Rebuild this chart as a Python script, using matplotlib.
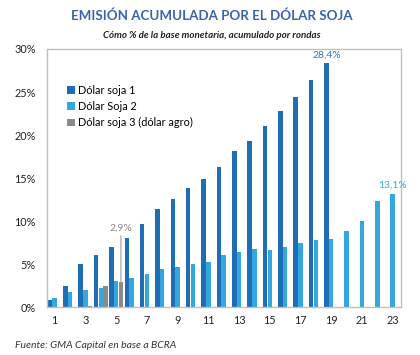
import matplotlib
matplotlib.use('Agg')
import matplotlib.pyplot as plt
import numpy as np

# rounds and accumulated emission (% of monetary base)
rounds = list(range(1, 24))
soja1 = [0.85, 2.5, 5.0, 6.0, 7.0, 8.0, 9.7, 11.4, 12.6, 13.8, 14.9, 16.3,
         18.1, 19.3, 21.1, 22.8, 24.4, 26.4, 28.4]
soja2 = [1.0, 1.8, 2.0, 2.2, 3.0, 3.4, 3.9, 4.4, 4.7, 5.0, 5.2, 6.0, 6.4,
         6.7, 6.6, 7.0, 7.4, 7.8, 7.9, 8.8, 10.0, 12.3, 13.1]
soja3_rounds = [3, 4, 5]
soja3 = [0.1, 2.4, 2.9]
yticks = [0, 5, 10, 15, 20, 25, 30]
xticks = list(range(1, 24, 2))

c1 = '#1f6db5'
c2 = '#35a7df'
c3 = '#8a8a8a'

plt.rcParams['font.family'] = ['Lato', 'DejaVu Sans']

fig = plt.figure(figsize=(4.2, 3.55), dpi=100)
ax = fig.add_axes([0.112, 0.135, 0.843, 0.727])

w = 0.29
off = 0.31
x1 = np.arange(1, len(soja1) + 1)
x2 = np.arange(1, len(soja2) + 1)
x3 = np.array(soja3_rounds)
ax.bar(x1 - off, soja1, width=w, color=c1, label='Dólar soja 1')
ax.bar(x2, soja2, width=w, color=c2, label='Dólar Soja 2')
ax.bar(x3 + off, soja3, width=w, color=c3, label='Dólar soja 3 (dólar agro)')

ax.set_xlim(0.5, 23.55)
ax.set_ylim(0, 30)
ax.set_yticks(yticks)
ax.set_yticklabels([f'{v}%' for v in yticks])
ax.set_xticks(xticks)
ax.tick_params(length=0, labelsize=7.8, colors='#222222')
ax.tick_params(axis='y', pad=8)
ax.tick_params(axis='x', pad=6)
for s in ax.spines.values():
    s.set_color('#c0c0c0')
    s.set_linewidth(1)

# value labels
ax.text(19 - off, soja1[-1] + 0.4, '28,4%', color='#2f78c2', ha='center',
        va='bottom', fontsize=7.5)
ax.text(23, soja2[-1] + 0.6, '13,1%', color='#35a7df', ha='center',
        va='bottom', fontsize=7.5)
ax.annotate('2,9%', xy=(5 + off, soja3[-1]), xytext=(5 + off, 8.6),
            ha='center', va='bottom', color=c3, fontsize=7.5,
            arrowprops=dict(arrowstyle='-', color='#b0b0b0', lw=1,
                            shrinkA=0, shrinkB=0))

leg = ax.legend(loc='upper left', bbox_to_anchor=(0.03, 0.9), frameon=False,
                fontsize=7.8, handlelength=0.7, handleheight=0.7,
                handletextpad=0.3, labelspacing=0.5)

fig.text(0.505, 0.955, 'EMISIÓN ACUMULADA POR EL DÓLAR SOJA', ha='center',
         va='center', fontsize=9.6, fontweight='bold', color='#3b62ad')
fig.text(0.505, 0.9, 'Cómo % de la base monetaria, acumulado por rondas',
         ha='center', va='center', fontsize=7, fontstyle='italic',
         fontweight='bold', color='#222222')
fig.text(0.036, 0.028, 'Fuente: GMA Capital en base a BCRA', ha='left',
         va='center', fontsize=7.5, fontstyle='italic', color='#333333')

fig.savefig('out.png', dpi=100)
